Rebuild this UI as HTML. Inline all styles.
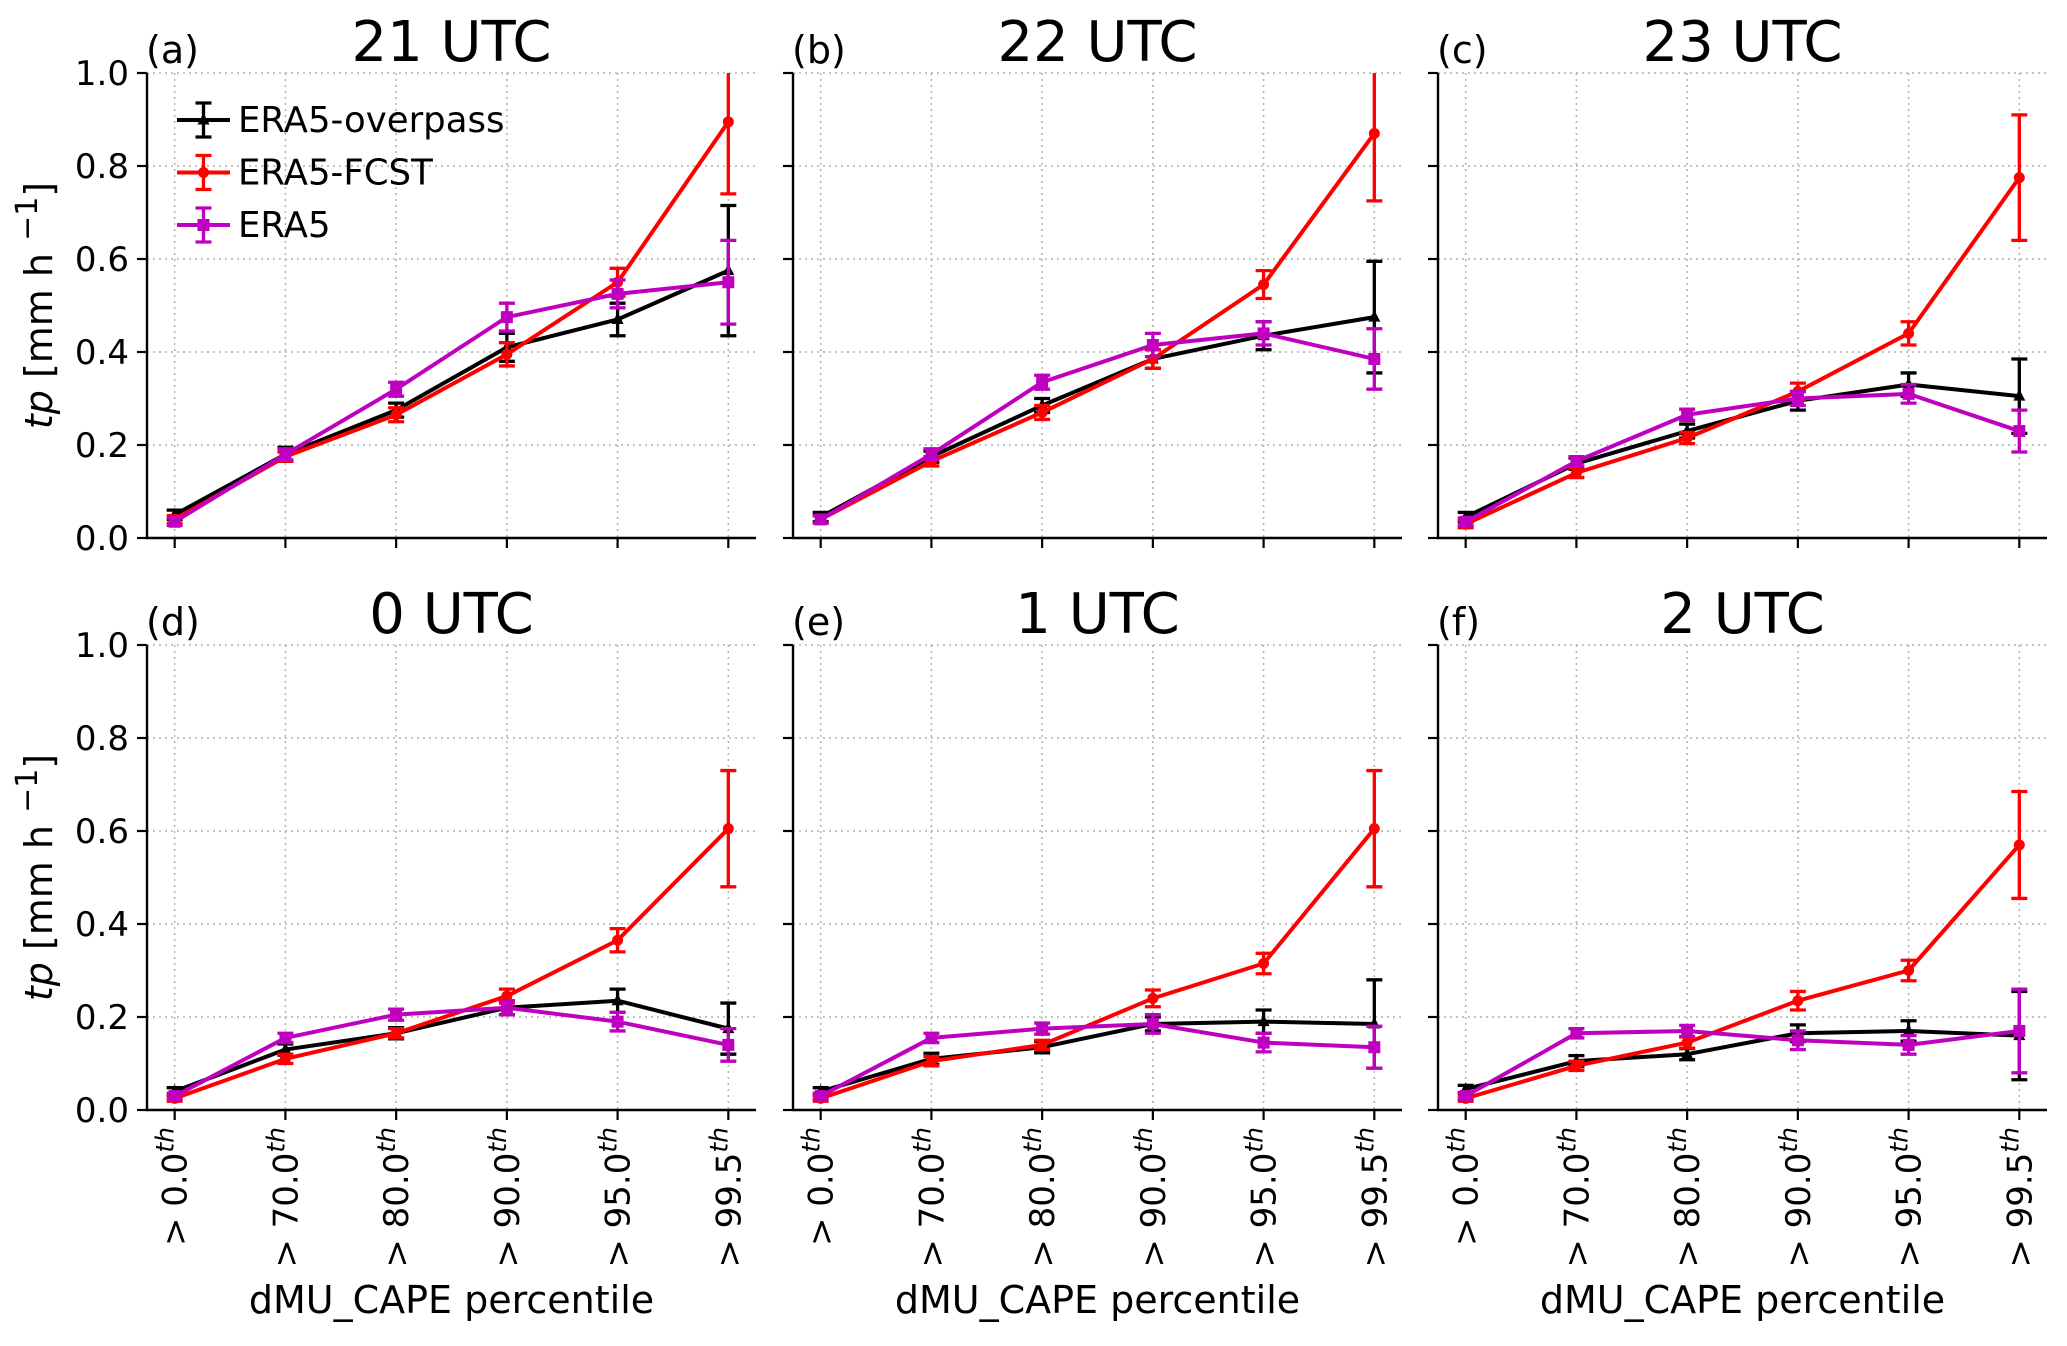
<!DOCTYPE html>
<html><head><meta charset="utf-8"><style>
html,body{margin:0;padding:0;background:#fff}
svg text{font-family:"DejaVu Sans","Liberation Sans",sans-serif;fill:#000}
</style></head><body>
<svg id="chart" width="2067" height="1341" xmlns="http://www.w3.org/2000/svg"></svg>
<script>
const categories = ["0.0","70.0","80.0","90.0","95.0","99.5"];
const panelTitles = ["21 UTC","22 UTC","23 UTC","0 UTC","1 UTC","2 UTC"];
const panelLetters = ["(a)","(b)","(c)","(d)","(e)","(f)"];
const yTicks = [0.0,0.2,0.4,0.6,0.8,1.0];
const seriesNames = ["ERA5-overpass","ERA5-FCST","ERA5"];
const overpassVals = [
 [0.05,0.18,0.275,0.41,0.47,0.575],
 [0.045,0.175,0.285,0.385,0.435,0.475],
 [0.045,0.16,0.23,0.295,0.33,0.305],
 [0.04,0.13,0.165,0.22,0.235,0.175],
 [0.04,0.11,0.135,0.185,0.19,0.185],
 [0.045,0.105,0.12,0.165,0.17,0.16]];
const overpassErr = [
 [0.01,0.015,0.015,0.03,0.035,0.14],
 [0.01,0.012,0.015,0.02,0.03,0.12],
 [0.01,0.012,0.015,0.02,0.025,0.08],
 [0.008,0.012,0.012,0.015,0.025,0.055],
 [0.008,0.012,0.012,0.015,0.025,0.095],
 [0.008,0.012,0.012,0.018,0.022,0.095]];
const fcstVals = [
 [0.04,0.175,0.265,0.395,0.55,0.895],
 [0.04,0.165,0.27,0.385,0.545,0.87],
 [0.03,0.14,0.215,0.315,0.44,0.775],
 [0.025,0.11,0.165,0.245,0.365,0.605],
 [0.025,0.105,0.14,0.24,0.315,0.605],
 [0.025,0.095,0.145,0.235,0.3,0.57]];
const fcstErr = [
 [0.008,0.01,0.015,0.025,0.03,0.155],
 [0.008,0.01,0.015,0.02,0.03,0.145],
 [0.008,0.01,0.012,0.018,0.025,0.135],
 [0.006,0.01,0.01,0.015,0.025,0.125],
 [0.006,0.01,0.01,0.018,0.022,0.125],
 [0.006,0.01,0.012,0.02,0.022,0.115]];
const era5Vals = [
 [0.035,0.18,0.32,0.475,0.525,0.55],
 [0.04,0.18,0.335,0.415,0.44,0.385],
 [0.035,0.165,0.265,0.3,0.31,0.23],
 [0.03,0.155,0.205,0.22,0.19,0.14],
 [0.03,0.155,0.175,0.185,0.145,0.135],
 [0.03,0.165,0.17,0.15,0.14,0.17]];
const era5Err = [
 [0.008,0.012,0.015,0.03,0.03,0.09],
 [0.008,0.012,0.015,0.025,0.025,0.065],
 [0.008,0.01,0.012,0.015,0.02,0.045],
 [0.006,0.01,0.012,0.015,0.02,0.035],
 [0.006,0.01,0.012,0.02,0.02,0.045],
 [0.006,0.01,0.012,0.02,0.02,0.09]];

const NS="http://www.w3.org/2000/svg";
const svg=document.getElementById('chart');
function mk(tag,attrs,parent){const e=document.createElementNS(NS,tag);for(const k in attrs)e.setAttribute(k,attrs[k]);(parent||svg).appendChild(e);return e;}

const colLefts=[147,793,1438];
const rowTops=[73,645];
const W=609,H=465;
const colors=["#000000","#ff0000","#bf00bf"];
const markers=["tri","circle","square"];
const allVals=[overpassVals,fcstVals,era5Vals];
const allErr=[overpassErr,fcstErr,era5Err];
const defs=mk('defs',{});

function drawMarker(g,type,x,y,c){
  let m;
  if(type==="tri"){m=mk('polygon',{points:`${x},${y-7} ${x-6},${y+4.5} ${x+6},${y+4.5}`,fill:c},g);}
  else if(type==="circle"){m=mk('circle',{cx:x,cy:y,r:5.5,fill:c},g);}
  else {m=mk('rect',{x:x-6,y:y-6,width:12,height:12,fill:c},g);}
  return m;
}

for(let p=0;p<6;p++){
  const L=colLefts[p%3], T=rowTops[Math.floor(p/3)], B=T+H;
  const xs=i=>L+W*(i+0.25)/5.5;
  const ys=v=>B-v*H;
  const cp=mk('clipPath',{id:'clip'+p},defs);
  mk('rect',{x:L,y:T,width:W,height:H},cp);
  const g=mk('g',{});
  
  
  yTicks.forEach(t=>{
    const l=mk('line',{x1:L,x2:L+W,y1:ys(t),y2:ys(t),stroke:'#b0b0b0','stroke-width':1.5,'stroke-dasharray':'2,4'},g);
    
    
  });
  categories.forEach((c,i)=>{
    const l=mk('line',{x1:xs(i),x2:xs(i),y1:T,y2:B,stroke:'#b0b0b0','stroke-width':1.5,'stroke-dasharray':'2,4'},g);
    
    
  });
  for(let s=0;s<3;s++){
    const sg=mk('g',{'clip-path':`url(#clip${p})`},g);
    
    
    const vals=allVals[s][p], errs=allErr[s][p];
    const pts=vals.map((v,i)=>`${xs(i)},${ys(v)}`).join(' ');
    const pl=mk('polyline',{points:pts,fill:'none',stroke:colors[s],'stroke-width':4,'stroke-linejoin':'round'},sg);
    
    
    vals.forEach((v,i)=>{
      const x=xs(i),y1=ys(v+errs[i]),y2=ys(Math.max(0,v-errs[i]));
      const eb=mk('path',{d:`M${x},${y1}V${y2}M${x-8},${y1}H${x+8}M${x-8},${y2}H${x+8}`,stroke:colors[s],'stroke-width':3.3,fill:'none'},sg);
      
      
      const m=drawMarker(sg,markers[s],x,ys(v),colors[s]);
      
      
    });
  }
  const sp=mk('path',{d:`M${L},${T}V${B}H${L+W}`,stroke:'#000','stroke-width':2.4,fill:'none'},g);
  
  
  yTicks.forEach(t=>{
    const tk=mk('line',{x1:L-10,x2:L,y1:ys(t),y2:ys(t),stroke:'#000','stroke-width':2.2},g);
    
    
    if(p%3===0){
      const tx=mk('text',{x:L-18,y:ys(t)+12,'text-anchor':'end','font-size':34},g);
      tx.textContent=t.toFixed(1);
      
      
    }
  });
  categories.forEach((c,i)=>{
    const tk=mk('line',{x1:xs(i),x2:xs(i),y1:B,y2:B+10,stroke:'#000','stroke-width':2.2},g);
    
    
    if(p>=3){
      const x=xs(i), y=B+17;
      const tx=mk('text',{transform:`translate(${x+12},${y}) rotate(-90)`,'text-anchor':'end','font-size':34},g);
      
      
      const a=mk('tspan',{},tx); a.textContent='> '+c;
      const b=mk('tspan',{dy:-13,'font-size':25,'font-style':'italic'},tx); b.textContent='th';
    }
  });
  const ti=mk('text',{x:L+W/2,y:T-12,'text-anchor':'middle','font-size':56},g);
  ti.textContent=panelTitles[p];
  
  
  const le=mk('text',{x:L-1,y:T-10,'font-size':38},g);
  le.textContent=panelLetters[p];
  
  
  if(p%3===0){
    const yl=mk('text',{transform:`translate(52,${T+H/2}) rotate(-90)`,'text-anchor':'middle','font-size':38},g);
    
    
    const t1=mk('tspan',{'font-style':'italic'},yl); t1.textContent='tp';
    const t2=mk('tspan',{},yl); t2.textContent=' [mm h ';
    const t3=mk('tspan',{dy:-15,'font-size':30},yl); t3.textContent='\u22121';
    const t4=mk('tspan',{dy:15},yl); t4.textContent=']';
  }
  if(p>=3){
    const xl=mk('text',{x:L+W/2,y:1313,'text-anchor':'middle','font-size':38},g);
    xl.textContent='dMU_CAPE percentile';
    
    
  }
}
const lg=mk('g',{});


for(let s=0;s<3;s++){
  const y=120+s*52.5, x1=177, x2=230, xm=(x1+x2)/2;
  const eg=mk('g',{},lg);
  
  
  mk('line',{x1:x1,x2:x2,y1:y,y2:y,stroke:colors[s],'stroke-width':4},eg);
  mk('path',{d:`M${xm},${y-17}V${y+17}M${xm-8},${y-17}H${xm+8}M${xm-8},${y+17}H${xm+8}`,stroke:colors[s],'stroke-width':3.3,fill:'none'},eg);
  drawMarker(eg,markers[s],xm,y,colors[s]);
  const t=mk('text',{x:238,y:y+12,'font-size':35.5},eg);
  t.textContent=seriesNames[s];
}
</script>
</body></html>
